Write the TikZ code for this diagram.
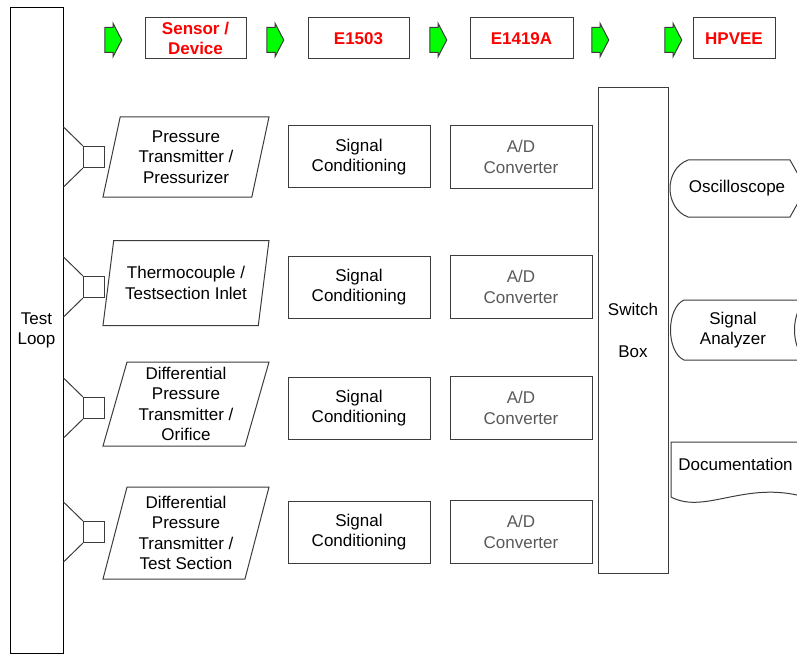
\documentclass[tikz,border=0pt]{standalone}
\usepackage{fontspec}
\setmainfont{Liberation Sans}
\usepackage{tikz}
\usetikzlibrary{shapes.geometric}
\usetikzlibrary{shapes.arrows}
\usetikzlibrary{positioning}
\usetikzlibrary{calc}
\definecolor{hdrred}{RGB}{255,0,0}
\definecolor{flowgreen}{RGB}{0,255,0}
\definecolor{linegray}{RGB}{60,60,60}
\tikzset{every picture/.style={line width=1pt},
  txt/.style={align=center,inner sep=0pt,font=\fontsize{17}{20.5}\selectfont},
  box/.style={txt,draw=linegray},
  hdr/.style={box,minimum height=41pt,text=hdrred,font=\fontsize{17}{20}\selectfont\bfseries},
  flow/.style={shape=single arrow,draw=linegray,fill=flowgreen,inner xsep=0pt,inner ysep=12pt,
    minimum height=17pt,single arrow head extend=4pt,single arrow tip angle=125},
  sensor/.style={txt,draw=linegray,shape=trapezium,trapezium left angle=72,trapezium right angle=108,
    trapezium stretches body,minimum width=166pt}}

\begin{document}
\begin{tikzpicture}[x=1pt,y=-1pt]
\useasboundingbox (0,0) rectangle (797,655);
\clip (0,0) rectangle (797,655);
\node (loop) at (36.5,330.5) [box,draw=black,minimum width=53pt,minimum height=645pt] {Test\\Loop};
% header row
\foreach \x in {110,272,435,597,670} {
\node (g\x) at (\x,40) [flow] {};
}
\node (hs) at (195.5,38.5) [hdr,minimum width=101pt] {Sensor /\\Device};
\node (he) at (358.5,38.5) [hdr,minimum width=101pt] {E1503};
\node (ha) at (521.5,38.5) [hdr,minimum width=103pt] {E1419A};
\node (hp) at (734,38.5) [hdr,minimum width=82pt] {HPVEE};
% measurement chains
\foreach \i/\y/\sy/\h/\txt in {1/157/157/80/{Pressure\\Transmitter /\\Pressurizer},
    2/287/283/85/{Thermocouple /\\Testsection Inlet},
    3/408/404/84/{Differential\\Pressure\\Transmitter /\\Orifice},
    4/532/533/92/{Differential\\Pressure\\Transmitter /\\Test Section}} {
\node (t\i) at (94,\y) [box,minimum size=21pt] {};
\coordinate (u\i) at (63.5,{\y-30});
\coordinate (d\i) at (63.5,{\y+30});
\draw[linegray] (u\i) -- (t\i.north west);
\draw[linegray] (d\i) -- (t\i.south west);
\node (s\i) at (186,\sy) [sensor,minimum height=\h pt] {\txt};
\node (c\i) at (359,\y) [box,minimum width=142pt,minimum height=62pt] {Signal\\Conditioning};
\node (a\i) at (521,\y) [box,minimum width=142pt,minimum height=63pt,text=black!65] {A/D\\Converter};
}
\node (sw) at (633,330.5) [box,minimum width=70pt,minimum height=485pt] {Switch\\[21pt]Box};
% outputs
\node (osc) at (737,188) [txt] {Oscilloscope};
\draw[linegray] (688,160) -- (790,160) -- (806,188.5) -- (790,217) -- (688,217)
  .. controls (664,208) and (664,169) .. (688,160);
\node (ana) at (733,330) [txt] {Signal\\Analyzer};
\draw[linegray] (684,300) -- (808,300) .. controls (790,308) and (790,352) .. (808,360) -- (684,360)
  .. controls (666,352) and (666,308) .. (684,300);
\node (doc) at (735.5,464) [txt] {Documentation};
\draw[linegray] (805,442) -- (671,442) -- (671,497) .. controls (705,515) and (745,480) .. (805,497);
\end{tikzpicture}
\end{document}
